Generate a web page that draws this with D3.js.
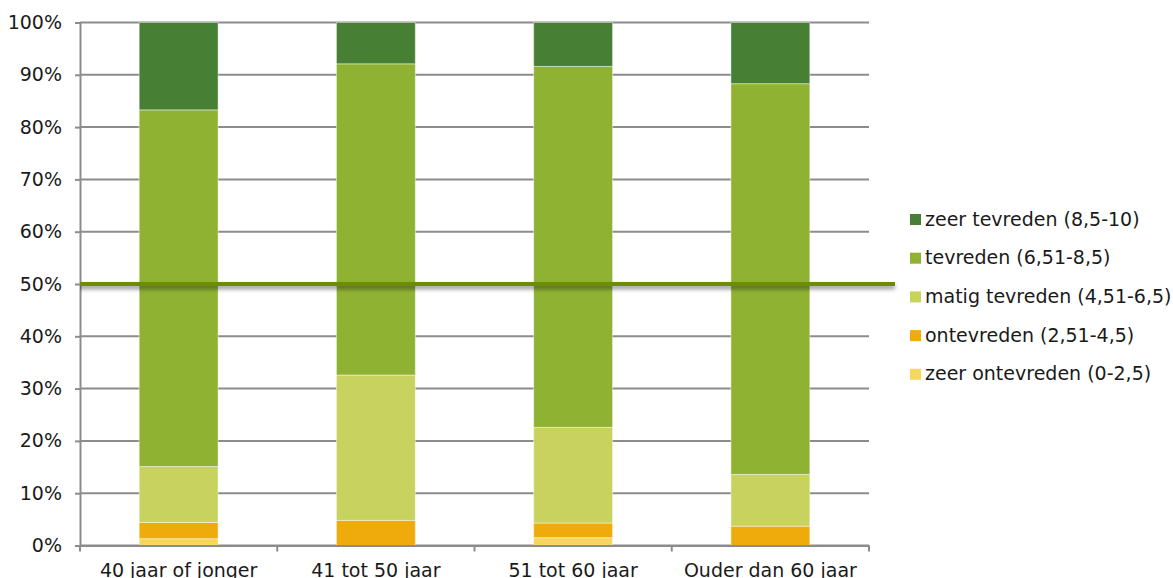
<!DOCTYPE html>
<html>
<head>
<meta charset="utf-8">
<script src="https://cdn.jsdelivr.net/npm/d3@7"></script>
<style>
  body { margin: 0; background: #fff; }
  svg text { font-family: "DejaVu Sans", Verdana, sans-serif; fill: #1a1a1a; }
</style>
</head>
<body>
<svg id="chart" width="1173" height="578"></svg>
<script>
// categories (age groups)
var categories = ["40 jaar of jonger", "41 tot 50 jaar", "51 tot 60 jaar", "Ouder dan 60 jaar"];

// series, bottom to top, percentages per category
var zeerOntevreden = [1.3, 0, 1.5, 0];
var ontevreden     = [3.1, 4.8, 2.8, 3.7];
var matigTevreden  = [10.7, 27.8, 18.3, 9.9];
var tevreden       = [68.2, 59.5, 69.0, 74.7];
var zeerTevreden   = [16.7, 7.9, 8.4, 11.7];

var seriesNames = ["zeer ontevreden (0-2,5)", "ontevreden (2,51-4,5)", "matig tevreden (4,51-6,5)",
    "tevreden (6,51-8,5)", "zeer tevreden (8,5-10)"];
var colors = ["#f6d65c", "#efab0b", "#c8d35f", "#8fb233", "#477f35"];

var yTicks = [0, 10, 20, 30, 40, 50, 60, 70, 80, 90, 100];
var referenceLine = 50;

var allSeries = [zeerOntevreden, ontevreden, matigTevreden, tevreden, zeerTevreden];
var rows = categories.map(function (c, i) {
    var r = { cat: c };
    seriesNames.forEach(function (s, j) { r[s] = allSeries[j][i]; });
    return r;
});

var svg = d3.select("#chart");
var margin = { top: 22.5, left: 80, right: 304, bottom: 32.5 };
var width = 1173 - margin.left - margin.right,
    height = 578 - margin.top - margin.bottom;
var fontSize = "19px";

var defs = svg.append("defs");
var f = defs.append("filter").attr("id", "shadow")
    .attr("filterUnits", "userSpaceOnUse")
    .attr("x", 0).attr("y", 0).attr("width", 1173).attr("height", 578);
f.append("feDropShadow").attr("dx", 0).attr("dy", 3).attr("stdDeviation", 2)
    .attr("flood-color", "#000").attr("flood-opacity", 0.45);

var g = svg.append("g").attr("transform", "translate(" + margin.left + "," + margin.top + ")");

var x = d3.scaleBand().domain(categories).range([0, width]).paddingInner(0.6).paddingOuter(0.3);
var y = d3.scaleLinear().domain([0, 100]).range([height, 0]);

// gridlines
g.selectAll("line.grid")
    .data(yTicks)
    .enter().append("line")
    .attr("class", "grid")
    .attr("x1", 0).attr("x2", width)
    .attr("y1", function (d) { return y(d); })
    .attr("y2", function (d) { return y(d); })
    .attr("stroke", "#8c8c8c").attr("stroke-width", 2);

// stacked bars
var stacked = d3.stack().keys(seriesNames)(rows);
g.selectAll("g.series")
    .data(stacked)
    .enter().append("g")
    .attr("class", "series")
    .attr("fill", function (d, i) { return colors[i]; })
    .selectAll("rect")
    .data(function (d) { return d; })
    .enter().append("rect")
    .attr("x", function (d) { return x(d.data.cat); })
    .attr("width", x.bandwidth())
    .attr("y", function (d) { return y(d[1]); })
    .attr("height", function (d) { return y(d[0]) - y(d[1]); })
    .attr("stroke", "rgba(255,255,255,0.45)")
    .attr("stroke-width", 1);

// y axis
var yAxis = g.append("g")
    .call(d3.axisLeft(y).tickValues(yTicks).tickFormat(function (d) { return d + "%"; }).tickSize(5).tickPadding(13));
yAxis.select(".domain").attr("stroke", "#8c8c8c").attr("stroke-width", 2);
yAxis.selectAll(".tick line").attr("stroke", "#8c8c8c").attr("stroke-width", 2);
yAxis.selectAll("text").style("font-size", fontSize).style("fill", "#1a1a1a");

// x axis
var xAxis = g.append("g")
    .attr("transform", "translate(0," + height + ")")
    .call(d3.axisBottom(x).tickSize(0).tickPadding(18));
xAxis.select(".domain").attr("stroke", "#8c8c8c").attr("stroke-width", 2);
xAxis.selectAll("text").style("font-size", fontSize).style("fill", "#1a1a1a");

// category boundary ticks
var bounds = categories.map(function (c) { return x(c) - x.step() * x.paddingInner() / 2; });
bounds.push(width);
bounds[0] = 0;
xAxis.selectAll("line.bound")
    .data(bounds)
    .enter().append("line")
    .attr("class", "bound")
    .attr("x1", function (d) { return d; }).attr("x2", function (d) { return d; })
    .attr("y1", 0).attr("y2", 6)
    .attr("stroke", "#8c8c8c").attr("stroke-width", 2);

// 50% reference line
g.append("line")
    .attr("x1", -10).attr("x2", width + 26)
    .attr("y1", y(referenceLine)).attr("y2", y(referenceLine))
    .attr("stroke", "#6e8c05").attr("stroke-width", 4)
    .attr("filter", "url(#shadow)");

// legend
var legend = svg.append("g").attr("transform", "translate(910,219)");
var legendOrder = seriesNames.slice().reverse();
legendOrder.forEach(function (s, i) {
    var idx = seriesNames.indexOf(s);
    legend.append("rect")
        .attr("x", 0).attr("y", i * 38.7 - 5)
        .attr("width", 11).attr("height", 11)
        .attr("fill", colors[idx]);
    legend.append("text")
        .attr("x", 15).attr("y", i * 38.7)
        .attr("dy", "0.35em")
        .style("font-size", fontSize)
        .text(s);
});
</script>
</body>
</html>
